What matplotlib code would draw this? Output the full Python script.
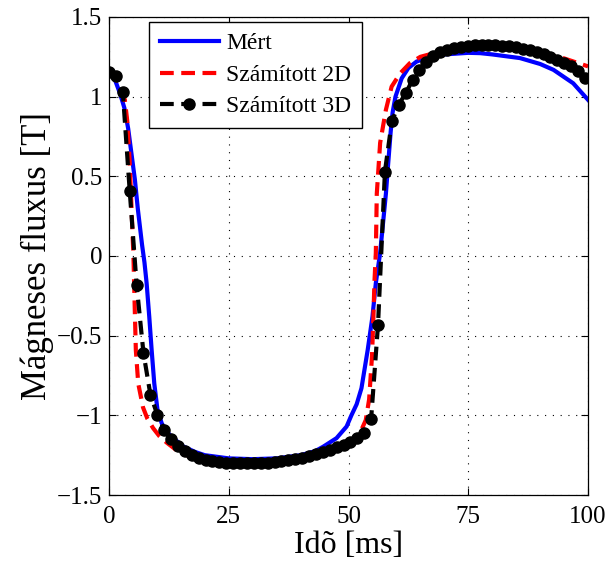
import numpy as np
import matplotlib
matplotlib.use("Agg")
import matplotlib.pyplot as plt
from matplotlib.ticker import FuncFormatter

plt.rcParams['font.family'] = ['Liberation Serif', 'DejaVu Serif']

# Mért (measured)
t_meas = [0, 1.25, 2.3, 3.2, 4.0, 4.7, 5.4, 6.0, 6.9, 7.4, 7.85, 8.4, 8.9, 9.45, 10.1,
          11.0, 12.0, 13.1, 15.5, 18, 20, 25, 30, 35, 40, 43, 44.7, 47.5, 49.6, 50.6,
          51.7, 52.7, 54.0, 55.0, 55.7, 56.6, 57.8, 58.2, 58.8, 59.2, 59.8, 61.1, 62.5,
          64.2, 67, 70, 75, 77.5, 80, 85.8, 90, 92.8, 96.9, 100]
b_meas = [1.16, 1.105, 1.02, 0.93, 0.80, 0.64, 0.48, 0.30, 0.07, -0.04, -0.17, -0.38, -0.59,
          -0.80, -0.96, -1.05, -1.10, -1.135, -1.195, -1.23, -1.25, -1.27, -1.275, -1.27,
          -1.25, -1.225, -1.197, -1.143, -1.07, -1.0, -0.93, -0.83, -0.59, -0.38, -0.17,
          0.02, 0.39, 0.55, 0.78, 0.90, 1.0, 1.115, 1.18, 1.22, 1.25, 1.265, 1.275, 1.273,
          1.265, 1.242, 1.205, 1.168, 1.084, 0.98]

# Számított 2D
t_2d = [0, 1.4, 2.5, 3.3, 3.8, 4.3, 4.7, 5.1, 5.35, 5.6, 6.1, 7.1, 8.0, 9.2, 10.5, 12,
        15, 20, 25, 30, 35, 40, 45, 50, 52, 52.7, 53.6, 54.3, 54.9, 55.2, 55.4, 55.7,
        55.9, 56.6, 57.8, 59.0, 60.8, 62.8, 65, 70, 75, 80, 85, 90, 95, 100]
b_2d = [1.155, 1.12, 1.05, 0.98, 0.85, 0.6, 0.3, 0.0, -0.3, -0.59, -0.80, -0.95, -1.02,
        -1.08, -1.13, -1.17, -1.24, -1.28, -1.30, -1.305, -1.30, -1.28, -1.24, -1.18,
        -1.13, -1.09, -1.03, -0.90, -0.63, -0.38, -0.17, 0.02, 0.39, 0.71, 0.917, 1.063,
        1.147, 1.21, 1.25, 1.29, 1.31, 1.32, 1.31, 1.28, 1.24, 1.19]

# Számított 3D (70 samples)
t_3d = [i * 1.44 for i in range(70)]
b_3d = [1.155, 1.13, 1.03, 0.41, -0.18, -0.61, -0.87, -0.995, -1.09, -1.15,
        -1.195, -1.225, -1.25, -1.265, -1.278, -1.287, -1.293, -1.298, -1.300, -1.302,
        -1.302, -1.301, -1.300, -1.297, -1.293, -1.288, -1.282, -1.275, -1.265, -1.255,
        -1.243, -1.230, -1.215, -1.200, -1.185, -1.165, -1.145, -1.11, -1.02, -0.43,
        0.53, 0.845, 0.95, 1.02, 1.105, 1.17, 1.22, 1.255, 1.28, 1.295,
        1.305, 1.312, 1.317, 1.321, 1.323, 1.324, 1.323, 1.320, 1.316, 1.310,
        1.302, 1.292, 1.280, 1.266, 1.250, 1.232, 1.212, 1.190, 1.16, 1.115]

fig = plt.figure(figsize=(6.1, 5.64), dpi=100)
ax = fig.add_axes([0.1787, 0.1223, 0.7853, 0.8476])

ax.plot(t_meas, b_meas, color='#0000ff', lw=3, label='Mért')
ax.plot(t_2d, b_2d, color='#ff0000', lw=3, ls='--', dashes=(3.3, 1.8), label='Számított 2D')
ax.plot(t_3d, b_3d, color='black', lw=3, ls='--', dashes=(3.3, 1.8), marker='o',
        markersize=8, label='Számított 3D')

ax.set_xlim(0, 100)
ax.set_ylim(-1.5, 1.5)
ax.set_xticks([0, 25, 50, 75, 100])
ax.set_yticks([-1.5, -1, -0.5, 0, 0.5, 1, 1.5])
ax.yaxis.set_major_formatter(FuncFormatter(lambda v, p: ('%g' % v).replace('-', '\u2212')))
ax.tick_params(direction='in', top=True, right=True, length=5, width=0.8, labelsize=18)
ax.tick_params(axis='x', pad=8)
ax.tick_params(axis='y', pad=5)
ax.grid(True, ls=(0, (1, 6)), color='black', lw=0.8)
for s in ax.spines.values():
    s.set_linewidth(0.9)

ax.set_xlabel('Idõ [ms]', fontsize=23, labelpad=2)
ax.set_ylabel('Mágneses fluxus [T]', fontsize=25, labelpad=2)

leg = ax.legend(loc='upper left', bbox_to_anchor=(0.084, 0.989), borderaxespad=0,
                fontsize=17, fancybox=False, edgecolor='black', framealpha=1,
                handlelength=2.5, handletextpad=0.3, labelspacing=0.42, borderpad=0.45)
leg.get_frame().set_linewidth(1.0)

fig.savefig('out.png', dpi=100)
